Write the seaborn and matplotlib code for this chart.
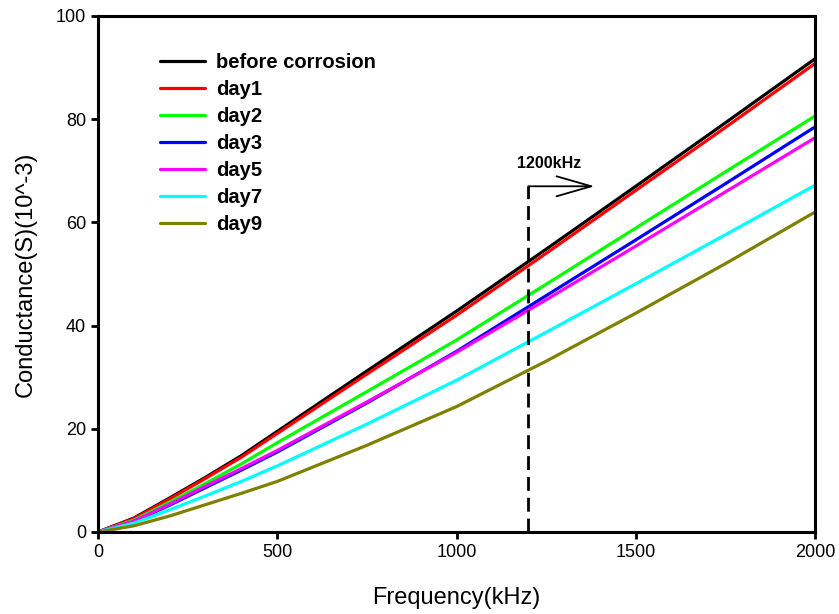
import numpy as np
import pandas as pd
import matplotlib
matplotlib.use("Agg")
import matplotlib.pyplot as plt
import seaborn as sns

freq = [0, 100, 200, 300, 400, 500, 750, 1000, 1250, 1500, 1750, 2000]
before = [0, 2.7, 6.6, 10.6, 14.8, 19.5, 31.2, 42.8, 54.8, 67.0, 79.3, 91.7]
day1 = [0, 2.6, 6.4, 10.4, 14.5, 19.1, 30.6, 42.0, 54.0, 66.2, 78.4, 90.8]
day2 = [0, 2.3, 5.8, 9.4, 13.2, 17.3, 27.2, 37.2, 48.0, 58.9, 69.8, 80.6]
day3 = [0, 2.0, 5.2, 8.6, 12.0, 15.5, 25.0, 35.0, 45.8, 56.6, 67.5, 78.5]
day5 = [0, 2.1, 5.4, 8.9, 12.3, 15.8, 25.2, 34.8, 45.0, 55.4, 65.9, 76.4]
day7 = [0, 1.7, 4.3, 7.0, 9.8, 12.8, 20.9, 29.4, 38.7, 48.1, 57.6, 67.2]
day9 = [0, 1.2, 3.1, 5.3, 7.5, 9.8, 16.8, 24.3, 33.1, 42.4, 52.0, 62.0]

labels = ["before corrosion", "day1", "day2", "day3", "day5", "day7", "day9"]
colors = ["#000000", "#ff0000", "#00ff00", "#0000ff", "#ff00ff", "#00ffff", "#808000"]
series = [before, day1, day2, day3, day5, day7, day9]

marker_freq = 1200
marker_label = "1200kHz"

rows = []
for lab, vals in zip(labels, series):
    for f, v in zip(freq, vals):
        rows.append({"Frequency": f, "Conductance": v, "Condition": lab})
df = pd.DataFrame(rows)

sns.set_style("ticks")
plt.rcParams["font.family"] = ["Liberation Sans", "DejaVu Sans"]
plt.rcParams["text.color"] = "black"
plt.rcParams["axes.labelcolor"] = "black"

fig = plt.figure(figsize=(8.39, 6.14), dpi=100)
ax = fig.add_axes([98/839, 82/614, 717/839, 516/614])

sns.lineplot(data=df, x="Frequency", y="Conductance", hue="Condition",
             hue_order=labels, palette=dict(zip(labels, colors)),
             linewidth=2.3, ax=ax, legend=True)

ax.set_xlim(0, 2000)
ax.set_ylim(0, 100)
ax.set_xticks([0, 500, 1000, 1500, 2000])
ax.set_yticks([0, 20, 40, 60, 80, 100])
ax.tick_params(axis="both", direction="out", length=5, width=2, labelsize=13,
               colors="black", labelcolor="black")
for s in ax.spines.values():
    s.set_linewidth(2.2)
    s.set_color("black")
    s.set_visible(True)

ax.set_xlabel("Frequency(kHz)", fontsize=17, labelpad=19, color="black")
ax.set_ylabel("Conductance(S)(10^-3)", fontsize=17, labelpad=14, color="black")

# dashed marker
ax.plot([marker_freq, marker_freq], [0, 67], color="black", linestyle=(0, (5, 2.5)), linewidth=2)
ax.annotate("", xy=(1385, 67), xytext=(marker_freq, 67),
            arrowprops=dict(arrowstyle="->,head_length=1.25,head_width=0.36",
                            mutation_scale=20, color="black", linewidth=1.3,
                            shrinkA=0, shrinkB=0))
ax.text(1170, 71.5, marker_label, fontsize=11.5, fontweight="bold", va="center", ha="left",
        color="black")

leg = ax.legend(loc="upper left", bbox_to_anchor=((160-98)/717, (532-53)/516),
                frameon=False, fontsize=14.5, handlelength=2.24, handletextpad=0.55,
                labelspacing=0.4, borderpad=0, borderaxespad=0)
for t in leg.get_texts():
    t.set_fontweight("bold")
    t.set_color("black")
for l in leg.get_lines():
    l.set_linewidth(2.3)

fig.savefig("out.png", dpi=100)
